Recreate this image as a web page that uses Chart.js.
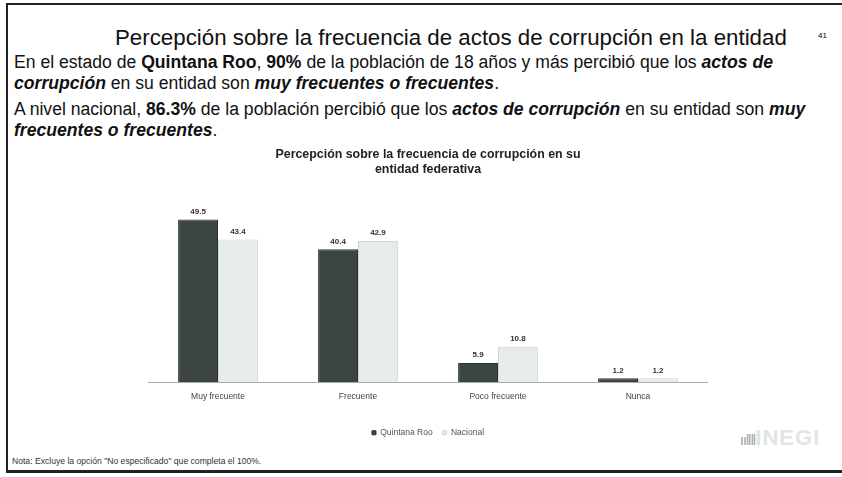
<!DOCTYPE html>
<html lang="es">
<head>
<meta charset="utf-8">
<script src="https://cdn.jsdelivr.net/npm/chart.js@4.4.1/dist/chart.umd.min.js"></script>
<style>
  html, body { margin: 0; padding: 0; background: #fff; }
  body { width: 842px; height: 477px; position: relative; overflow: hidden; font-family: "Liberation Sans", Arial, sans-serif; color: #111; }
  .frame { position: absolute; left: 6px; top: 3px; width: 850px; height: 465px; border: 2px solid #222; border-right: none; border-bottom-width: 3px; }
  .titulo { position: absolute; left: 115px; top: 25px; font-size: 22.3px; white-space: nowrap; }
  .pag { position: absolute; left: 818px; top: 31px; font-size: 8px; color: #000; }
  .texto { position: absolute; left: 14px; width: 830px; font-size: 17.6px; line-height: 21px; white-space: nowrap; }
  .nota { position: absolute; left: 12px; top: 456px; font-size: 8.6px; color: #333; }
  .logo { position: absolute; left: 740px; top: 425px; font-size: 22px; font-weight: bold; color: #dfe6e3; letter-spacing: 1px; }
  .logo span { color: #999; font-size: 14px; font-weight: normal; letter-spacing: -1px; }
  #wrap { position: absolute; left: 148px; top: 142px; width: 560px; height: 305px; }
</style>
</head>
<body>
<div class="frame"></div>
<div class="titulo">Percepción sobre la frecuencia de actos de corrupción en la entidad</div>
<div class="pag">41</div>
<div class="texto" style="top:52px">En el estado de <b>Quintana Roo</b>, <b>90%</b> de la población de 18 años y más percibió que los <b><i>actos de</i></b><br><b><i>corrupción</i></b> en su entidad son <b><i>muy frecuentes o frecuentes</i></b>.</div>
<div class="texto" style="top:99px">A nivel nacional, <b>86.3%</b> de la población percibió que los <b><i>actos de corrupción</i></b> en su entidad son <b><i>muy</i></b><br><b><i>frecuentes o frecuentes</i></b>.</div>
<div id="wrap"><canvas id="freqChart"></canvas></div>
<div class="nota">Nota: Excluye la opción "No especificado" que completa el 100%.</div>
<div class="logo"><span>ıı‖‖</span>INEGI</div>
<script>
const categorias = ['Muy frecuente', 'Frecuente', 'Poco frecuente', 'Nunca'];
const quintanaRoo = [49.5, 40.4, 5.9, 1.2];
const nacional = [43.4, 42.9, 10.8, 1.2];

// etiquetas de valor sobre cada barra
const etiquetas = {
  id: 'etiquetas',
  afterDatasetsDraw(chart) {
    const ctx = chart.ctx;
    ctx.save();
    ctx.font = 'bold 8px "Liberation Sans", Arial, sans-serif';
    ctx.fillStyle = '#333';
    ctx.textAlign = 'center';
    ctx.textBaseline = 'bottom';
    chart.data.datasets.forEach((ds, i) => {
      chart.getDatasetMeta(i).data.forEach((bar, j) => {
        ctx.fillText(ds.data[j].toFixed(1), bar.x, bar.y - 4);
      });
    });
    ctx.restore();
  }
};

new Chart(document.getElementById('freqChart'), {
  type: 'bar',
  data: {
    labels: categorias,
    datasets: [
      { label: 'Quintana Roo', data: quintanaRoo, backgroundColor: '#3c4641', borderColor: '#2a302d', borderWidth: 1 },
      { label: 'Nacional', data: nacional, backgroundColor: '#e6ecec', borderColor: '#cfd6d6', borderWidth: 1 }
    ]
  },
  options: {
    responsive: true,
    maintainAspectRatio: false,
    animation: false,
    categoryPercentage: 0.57,
    barPercentage: 1,
    layout: { padding: 0 },
    plugins: {
      title: {
        display: true,
        text: ['Percepción sobre la frecuencia de corrupción en su', 'entidad federativa'],
        font: { size: 12.4, weight: 'bold', family: '"Liberation Sans", Arial, sans-serif' },
        color: '#222',
        padding: { top: 5, bottom: 13 }
      },
      legend: {
        position: 'bottom',
        labels: { boxWidth: 4, boxHeight: 4, font: { size: 8.5 }, color: '#555', padding: 10 }
      },
      tooltip: { enabled: false }
    },
    scales: {
      x: {
        grid: { display: false },
        border: { color: '#aaa', dash: [1, 1] },
        ticks: { font: { size: 8.5 }, color: '#444', padding: 1 },
        // deja espacio entre las etiquetas del eje y la leyenda
        afterFit(scale) { scale.height += 16; }
      },
      y: { display: false, min: 0, max: 58.5 }
    }
  },
  plugins: [etiquetas]
});
</script>
</body>
</html>
